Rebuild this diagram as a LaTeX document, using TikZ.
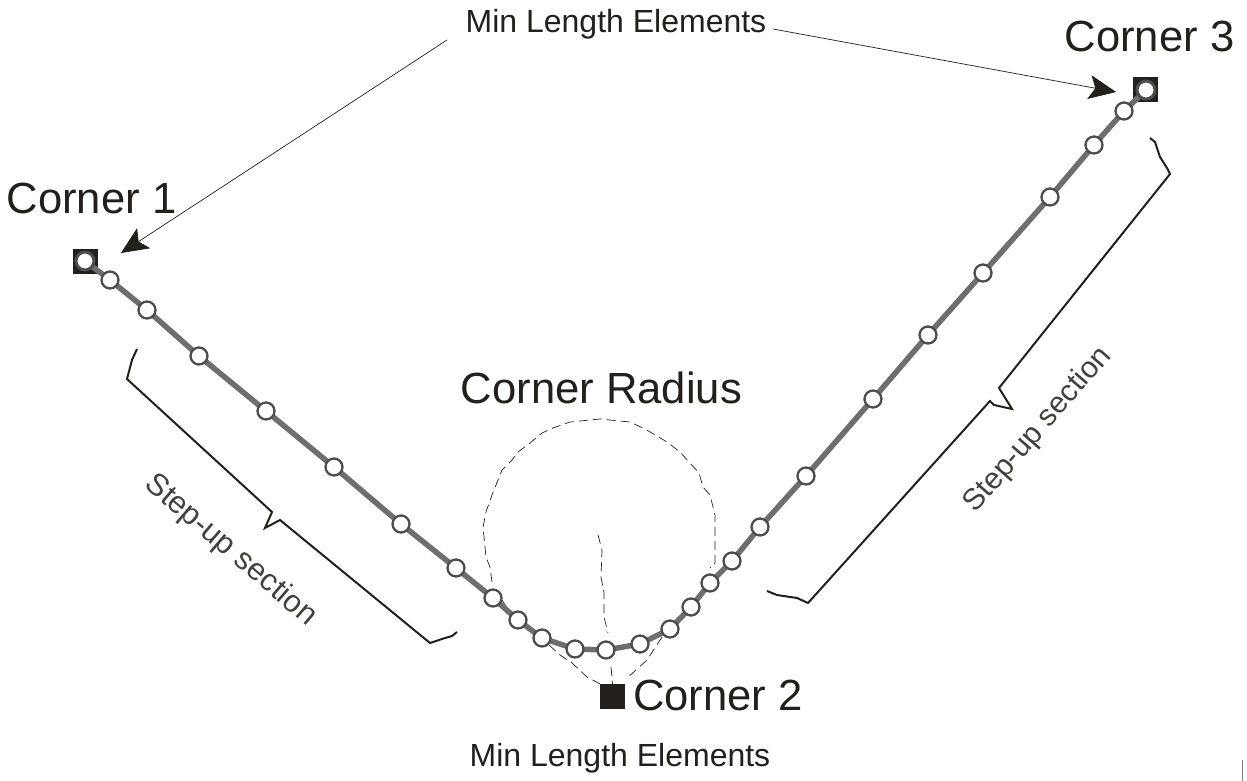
\documentclass[tikz,border=0pt]{standalone}
\usepackage{fontspec}
\setmainfont{Liberation Sans}
\usetikzlibrary{arrows.meta}
\definecolor{ink}{HTML}{231F1A}
\definecolor{railgray}{HTML}{6E6E6E}
\definecolor{ringgray}{HTML}{4D4D4D}
\tikzset{
  x=1pt,y=-1pt,
  bigtext/.style={font=\fontsize{43.6}{48}\selectfont,text=ink,inner sep=0pt},
  smalltext/.style={font=\fontsize{32}{36}\selectfont,text=ink,inner sep=0pt},
  steptext/.style={font=\fontsize{31}{34}\selectfont,text=ink!85!white,inner sep=0pt},
  steptextb/.style={font=\fontsize{30}{34}\selectfont,text=ink!85!white,inner sep=0pt},
  rail/.style={draw=railgray,line width=5.5pt,line join=round},
  elemdot/.style={circle,draw=ringgray,line width=2.3pt,fill=white,minimum size=17pt,inner sep=0pt},
  enddot/.style={circle,draw=ringgray,line width=3pt,fill=white,minimum size=18pt,inner sep=0pt},
  cornerbox/.style={rectangle,fill=ink,minimum size=25pt,inner sep=0pt},
  bracket/.style={draw=ink,line width=2pt,line join=miter},
  pointer/.style={draw=ink,line width=0.7pt,-{Stealth[length=27pt,width=24pt,inset=6pt,fill=ink]}},
  thindash/.style={draw=ink,line width=0.7pt,dash pattern=on 9pt off 5pt}
}
\begin{document}
\begin{tikzpicture}
\useasboundingbox (0,0) rectangle (1247,781);
% corner boxes
\node[cornerbox] (c1) at (85.5,261) {};
\node[cornerbox] (c2) at (612.5,696.5) {};
\node[cornerbox] (c3) at (1145.5,89.5) {};
% construction lines
\draw[thindash] (492,582) -- (490,567) -- (486,557) -- (483,527) -- (486,512) -- (492,495) -- (502,470) -- (512,460) -- (518,452) -- (530,443) -- (542,433) -- (553,428) -- (570,422) -- (600,419) -- (630,422) -- (645,429) -- (667,442) -- (680,452) -- (699,473) -- (703,487) -- (710,495) -- (715,515) -- (715,563) -- (710,568);
\draw[thindash] (502,600) -- (507,608);
\draw[thindash] (598,535) -- (602,550) -- (601,577) -- (604,593) -- (604,617) -- (608,633);
\draw[thindash] (549,645) -- (560,655) -- (572,663) -- (587,677) -- (c2.north west);
\draw[thindash] (611,667) -- (c2.north);
\draw[thindash] (662,637) -- (647,660) -- (626,679);
% rail coordinates, line, then elements
\foreach \px/\py [count=\i] in {85/261,110/280,147/310,199/356,266/411,334/467,401/524,456/568,493/598,518/620,542/638,575/649,606/650,640/644,670/629,691/607,710/583,732/561,760/527,806/476,873/399,928/335,983/273,1050/197,1094/145,1124/111,1146/90}
  \coordinate (r\i) at (\px,\py);
\foreach \i [remember=\i as \j (initially 1)] in {2,...,27}
  \draw[rail,line cap=round] (r\j) -- (r\i);
\foreach \i in {2,...,26}
  \node[elemdot] (e\i) at (r\i) {};
\node[enddot] (e1) at (r1) {};
\node[enddot] (e27) at (r27) {};
% labels
\node[bigtext,anchor=center] (lc1) at (91.5,198) {Corner 1};
\node[bigtext,anchor=center] (lc2) at (718,695) {Corner 2};
\node[bigtext,anchor=center] (lc3) at (1149.5,36) {Corner 3};
\node[bigtext,anchor=center] (lcr) at (601.5,388) {Corner Radius};
\node[smalltext,anchor=center] (lmt) at (616,24.5) {Min Length Elements};
\node[smalltext,anchor=center] (lmb) at (620,758.5) {Min Length Elements};
\node[steptext,rotate=-40.5] (ls1) at (230.5,550.5) {Step-up section};
\node[steptextb,rotate=49] (ls2) at (1038,430) {Step-up section};
% pointers
\coordinate (t1) at (121,253);
\coordinate (t3) at (1116,92);
\coordinate (s1) at (447,40);
\coordinate (s3) at (773,29);
\draw[pointer] (s1) -- (t1);
\draw[pointer] (s3) -- (t3);
% brackets
\draw[bracket] (137,349) -- (132,360) -- (127,379) -- (272,512) -- (265,528) -- (280,520) -- (430,643) -- (445,638) -- (452,636) -- (457,632);
\draw[bracket] (767,591) -- (777,595) -- (797,598) -- (808,603) -- (990,401) -- (994,405) -- (1012,409) -- (999,388) -- (1170,174) -- (1167,168) -- (1160,157) -- (1155,142) -- (1150,138);
% stray tick
\draw[draw=gray,line width=0.8pt] (1242,760) -- (1242,781);
\end{tikzpicture}
\end{document}
